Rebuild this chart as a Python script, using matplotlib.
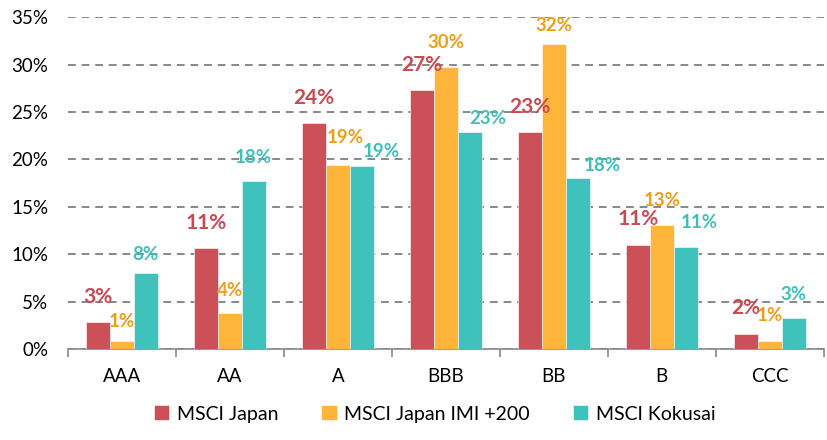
import numpy as np
from matplotlib import pyplot as plt
from matplotlib.ticker import PercentFormatter

ratings = ['AAA', 'AA', 'A', 'BBB', 'BB', 'B', 'CCC']
msci_japan = [2.85, 10.6, 23.8, 27.3, 22.9, 11.0, 1.6]
msci_japan_imi = [0.85, 3.8, 19.4, 29.7, 32.2, 13.1, 0.85]
msci_kokusai = [8.0, 17.7, 19.3, 22.9, 18.0, 10.7, 3.3]

series_names = ['MSCI Japan', 'MSCI Japan IMI +200', 'MSCI Kokusai']
bar_colors = ['#CC5058', '#FFB43A', '#40C2BC']
label_colors = ['#C94A53', '#EE9E1A', '#3EC0BA']

# label nudges in pixels (dx, dy above bar top), as placed in the original
label_dx = [[0, 0, 0, 0, 0, 0, 0],
            [0, 0, 7, 0, 0, 0, 0],
            [0, 0, 20, 18, 25, 14, 0]]
label_dy = [[25, 25, 25, 25, 25, 26, 26],
            [19, 22, 28, 25, 18, 24, 25],
            [19, 24, 14, 13, 13, 25, 23]]

plt.rcParams['font.family'] = ['Lato', 'DejaVu Sans']

fig = plt.figure(figsize=(8.28, 4.4), dpi=100)
ax = fig.add_axes([0.082, 0.207, 0.913, 0.754])

x = np.arange(len(ratings))
w = 0.22
all_series = [msci_japan, msci_japan_imi, msci_kokusai]
for i, vals in enumerate(all_series):
    pos = x + (i - 1) * w
    bars = ax.bar(pos, vals, width=w, color=bar_colors[i], label=series_names[i],
                  edgecolor='white', linewidth=0.4, zorder=3)
    size = 15 if i == 0 else 13.5
    for j, (b, v) in enumerate(zip(bars, vals)):
        ax.annotate(f'{v:.0f}%', (b.get_x() + b.get_width() / 2, v),
                    xytext=(label_dx[i][j], label_dy[i][j]), textcoords='offset pixels',
                    ha='center', va='center', fontsize=size,
                    fontweight='bold', color=label_colors[i], zorder=4)

ax.set_ylim(0, 35)
ax.set_xlim(-0.5, len(ratings) - 0.5)
ax.set_yticks(np.arange(0, 36, 5))
ax.yaxis.set_major_formatter(PercentFormatter(decimals=0))
ax.yaxis.grid(True, linestyle=(0, (4, 3)), color='#888888', linewidth=1.4, zorder=0)
ax.tick_params(axis='y', length=0, labelsize=13.5, pad=14)

ax.set_xticks(x)
ax.set_xticklabels(ratings)
ax.set_xticks(np.arange(-0.5, len(ratings), 1), minor=True)
ax.tick_params(axis='x', which='major', length=0, labelsize=13.5, pad=14)
ax.tick_params(axis='x', which='minor', length=6, color='#888888', width=1.2)

for s in ['top', 'right', 'left']:
    ax.spines[s].set_visible(False)
ax.spines['bottom'].set_color('#888888')
ax.spines['bottom'].set_linewidth(1.2)

fig.legend(loc='lower center', bbox_to_anchor=(0.525, 0.0), ncol=3, frameon=False,
           fontsize=14, handlelength=0.8, handleheight=0.8, columnspacing=2.2,
           handletextpad=0.4)

fig.savefig('out.png', dpi=100)
